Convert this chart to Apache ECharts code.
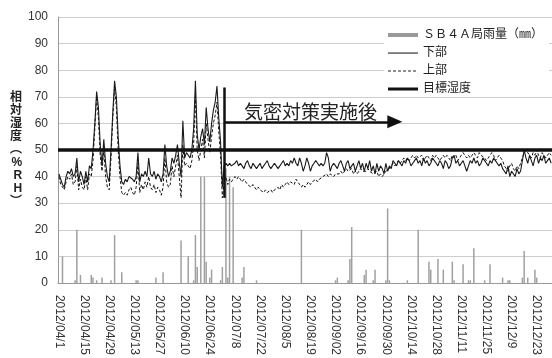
<!DOCTYPE html>
<html>
<head>
<meta charset="utf-8">
<script src="https://cdn.jsdelivr.net/npm/echarts@6/dist/echarts.min.js"></script>
<style>html,body{margin:0;padding:0;background:#fff;}#c{width:552px;height:358px;}</style>
</head>
<body>
<div id="c"></div>
<script>
// ---- data ----
const startDate = [2012, 4, 1];
const dayCount = 275;
const tickLabels = ['2012/04/1','2012/04/15','2012/04/29','2012/05/13','2012/05/27','2012/06/10','2012/06/24','2012/07/8','2012/07/22','2012/08/5','2012/08/19','2012/09/02','2012/09/16','2012/09/30','2012/10/14','2012/10/28','2012/11/11','2012/11/25','2012/12/9','2012/12/23'];
const yTicks = [0,10,20,30,40,50,60,70,80,90,100];

const lowerRH = [
41,39,37,36,40,42,41,43,40,41,
47,38,42,40,37,42,38,44,43,50,
60,72,66,52,44,54,45,40,38,50,
64,76,70,55,44,38,37,39,38,40,
40,39,38,40,49,38,41,40,42,40,
47,41,40,42,39,41,40,38,41,52,
44,40,42,47,45,48,52,45,40,61,
47,49,48,47,50,58,76,56,50,55,
58,52,66,58,53,60,65,68,74,62,
53,36,44,45,44,45,44,
44,45,46,44,45,44,43,45,46,44,43,45,44,43,
44,45,43,44,45,46,44,43,44,45,44,43,44,45,46,
44,45,44,46,45,47,45,44,47,45,42,44,47,45,42,
44,45,46,45,44,45,44,45,49,47,42,44,45,44,43,
45,46,44,42,45,46,43,44,45,42,44,46,43,45,42,
45,43,46,42,44,41,45,42,44,43,41,45,42,44,43,
46,45,44,46,45,44,46,45,47,46,44,45,46,47,45,
46,44,47,45,46,44,45,47,46,45,44,46,45,43,46,
45,43,44,47,48,45,46,44,45,46,44,42,44,46,45,
47,45,46,44,45,47,46,45,44,46,45,47,46,45,44,
45,43,42,41,44,40,42,41,40,43,41,42,46,50,47,
45,48,46,44,47,48,45,47,46,48,45,46,47,45
];
const upperRH = [
40,37,36,35,38,40,39,41,37,38,
44,35,39,36,35,40,35,41,40,46,
58,70,62,48,42,50,40,36,35,47,
62,73,66,50,40,34,33,34,33,35,
36,34,33,36,45,34,37,35,38,36,
40,36,35,37,34,36,35,33,36,47,
38,36,37,44,40,44,48,40,32,52,
44,45,44,43,46,52,70,50,46,50,
54,47,60,54,49,55,60,63,68,57,
48,32,38,40,37,39,38,
39,40,39,40,39,38,39,38,37,37,36,37,36,35,
36,35,35,34,35,34,34,35,34,35,35,36,35,37,36,
37,38,37,38,38,37,39,38,37,36,37,36,37,38,37,
38,38,39,38,39,39,40,40,41,40,41,41,40,41,41,
41,42,41,42,43,42,42,43,41,42,41,42,43,42,42,
42,43,42,42,41,41,42,40,41,40,41,42,42,43,44,
45,44,45,46,45,46,47,46,47,46,47,48,47,48,47,
47,48,46,47,48,47,46,48,47,48,47,46,47,48,47,
48,47,46,48,47,48,46,47,48,49,48,47,48,47,48,
49,48,47,49,48,48,47,46,47,48,49,48,46,47,48,
47,46,44,43,42,44,45,43,42,44,43,45,47,49,50,
49,48,47,49,48,50,48,47,49,48,47,48,49,48
];
const rainDays   = [2,9,10,12,18,19,21,24,29,31,35,43,44,54,58,68,72,75,76,77,79,81,82,84,85,90,91,93,94,95,97,102,103,110,135,154,155,161,162,163,170,171,175,176,182,183,184,194,200,206,207,211,214,219,220,225,228,229,231,237,240,247,250,251,258,259,261,265,266];
const rainValues = [10,1,20,3,3,2,1,2,1,18,4,1,1,2,4,16,10,1,18,6,40,40,8,2,5,1,6,43,2,40,36,2,6,1,20,1,2,1,9,21,3,5,1,5,1,28,1,1,20,8,5,9,5,8,1,7,1,1,13,1,7,2,1,1,2,12,2,5,2];

const targetRH = 50;
const annotIdx = 92, annotTop = 73.5, annotBottom = 32;
const arrowY = 60.6, arrowEndIdx = 187;
const annotText = '気密対策実施後', annotTextIdx = 140, annotTextY = 63.6;

const rainName = 'ＳＢ４Ａ局雨量（㎜）';

// ---- build ----
const categories = [];
for (let i = 0; i < dayCount; i++) {
  const d = new Date(startDate[0], startDate[1]-1, startDate[2] + i);
  categories.push(d.getFullYear() + '/' + String(d.getMonth()+1).padStart(2,'0') + '/' + String(d.getDate()).padStart(2,'0'));
}
const rainData = rainDays.map((d, i) => [categories[d], rainValues[i]]);

// legend icons (bounding box 30x12 kept by the corner move-tos)
const BOX = 'M0,0L0,0M30,12L30,12';
const iconBar = 'path://' + BOX + 'M0,4L30,4L30,8L0,8Z';
const iconThin = 'path://' + BOX + 'M0,5.5L30,5.5L30,6.6L0,6.6Z';
let dash = '';
for (let x = 0; x < 30; x += 5) dash += 'M' + x + ',5.5L' + (x + 3) + ',5.5L' + (x + 3) + ',6.6L' + x + ',6.6Z';
const iconDash = 'path://' + BOX + dash;
const iconThick = 'path://' + BOX + 'M0,4.5L30,4.5L30,7.5L0,7.5Z';

const FONT = "'Liberation Sans', 'Noto Sans CJK JP', sans-serif";
const chart = echarts.init(document.getElementById('c'), null, {renderer: 'canvas'});
chart.setOption({
  animation: false,
  textStyle: {fontFamily: FONT},
  grid: {left: 58, top: 17, width: 503, bottom: 72, containLabel: false},
  legend: {
    orient: 'vertical', left: 384, top: 25, padding: [4, 6, 1, 4],
    backgroundColor: '#fff', itemWidth: 30, itemHeight: 12, itemGap: 6, itemTextGap: 4,
    textStyle: {fontSize: 12, color: '#222', fontFamily: FONT},
    data: [
      {name: rainName, icon: iconBar, itemStyle: {color: '#999', borderWidth: 0}},
      {name: '下部', icon: iconThin, itemStyle: {color: '#222', borderWidth: 0}},
      {name: '上部', icon: iconDash, itemStyle: {color: '#222', borderWidth: 0}},
      {name: '目標湿度', icon: iconThick, itemStyle: {color: '#111', borderWidth: 0}}
    ]
  },
  xAxis: {
    type: 'category', data: categories, boundaryGap: true,
    axisLine: {lineStyle: {color: '#999'}},
    axisTick: {interval: 6, length: 4, lineStyle: {color: '#999'}},
    axisLabel: {
      interval: 13, rotate: -90, margin: 12, fontSize: 12, color: '#333', fontFamily: FONT,
      formatter: (v, i) => tickLabels[i / 14] || ''
    },
    splitLine: {show: false}
  },
  yAxis: {
    type: 'value', min: yTicks[0], max: yTicks[yTicks.length-1], interval: 10,
    name: '相\n対\n湿\n度\n︵\n%\nR\nH\n︶', nameLocation: 'middle', nameRotate: 0, nameGap: 32,
    nameTextStyle: {fontSize: 12, fontWeight: 'bold', lineHeight: 13, color: '#222', fontFamily: FONT},
    axisLine: {show: true, lineStyle: {color: '#999'}},
    axisTick: {show: false},
    axisLabel: {fontSize: 12, color: '#333', margin: 10, fontFamily: FONT},
    splitLine: {lineStyle: {color: '#cdcdcd'}}
  },
  series: [
    {name: rainName, type: 'bar', data: rainData, barWidth: 1.5, itemStyle: {color: '#a0a0a0'}, z: 1},
    {name: '上部', type: 'line', data: upperRH, symbol: 'none', z: 3,
     lineStyle: {color: '#111', width: 1, type: [3, 2]}, itemStyle: {color: '#111'}},
    {name: '下部', type: 'line', data: lowerRH, symbol: 'none', z: 4,
     lineStyle: {color: '#1a1a1a', width: 1.1}, itemStyle: {color: '#1a1a1a'},
     markLine: {
       silent: true, symbol: ['none', 'none'], label: {show: false}, animation: false,
       data: [
         {yAxis: targetRH, lineStyle: {color: '#111', width: 3.5, type: 'solid'}},
         [{coord: [categories[annotIdx], annotTop], lineStyle: {color: '#111', width: 2.5, type: 'solid'}},
          {coord: [categories[annotIdx], annotBottom]}],
         [{coord: [categories[annotIdx], arrowY], lineStyle: {color: '#111', width: 2.5, type: 'solid'}},
          {coord: [categories[arrowEndIdx], arrowY], symbol: 'triangle', symbolSize: [13, 15]}]
       ]
     },
     markPoint: {
       silent: true, animation: false,
       data: [{coord: [categories[annotTextIdx], annotTextY], symbol: 'rect', symbolSize: 1,
               itemStyle: {color: 'rgba(0,0,0,0)'},
               label: {show: true, position: 'inside', formatter: annotText, fontSize: 19, color: '#222', fontFamily: FONT}}]
     }
    },
    {name: '目標湿度', type: 'line', data: [], symbol: 'none', z: 5,
     lineStyle: {color: '#111', width: 3.5}, itemStyle: {color: '#111'}}
  ]
});
</script>
</body>
</html>
